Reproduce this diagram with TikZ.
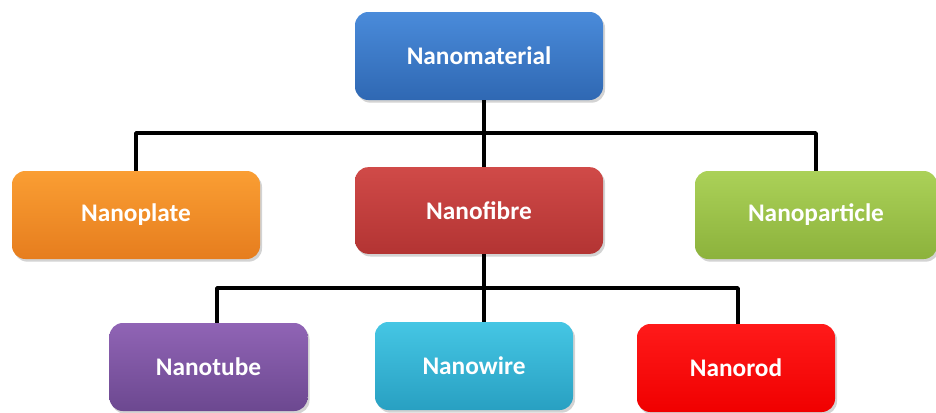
\documentclass[tikz,border=0pt]{standalone}
\usepackage{fontspec}
\setmainfont{Carlito}
\usetikzlibrary{shadows}
\definecolor{bluetop}{HTML}{4A8BDA}
\definecolor{bluebot}{HTML}{2F68B3}
\definecolor{redtop}{HTML}{D04A48}
\definecolor{redbot}{HTML}{B33433}
\definecolor{orgtop}{HTML}{FA9E33}
\definecolor{orgbot}{HTML}{E67D1E}
\definecolor{grntop}{HTML}{ABD158}
\definecolor{grnbot}{HTML}{8CB23C}
\definecolor{purtop}{HTML}{9064B5}
\definecolor{purbot}{HTML}{6C4890}
\definecolor{cyntop}{HTML}{45C6E4}
\definecolor{cynbot}{HTML}{28A0C2}
\definecolor{rodtop}{HTML}{FF1A1A}
\definecolor{rodbot}{HTML}{F00000}
\tikzset{
  box/.style={rounded corners=10pt, minimum height=66pt, inner sep=0pt,
    text=white, font=\fontsize{19}{22}\selectfont\bfseries,
    drop shadow={opacity=0.35, shadow xshift=1.5pt, shadow yshift=-2pt}},
  wide/.style={minimum width=186pt},
  narrow/.style={minimum width=148.5pt},
  conn/.style={line width=2.8pt, black, line join=round}
}
\begin{document}
\begin{tikzpicture}[x=0.75pt,y=-0.75pt]
\useasboundingbox (0,0) rectangle (936,412);
% connectors (behind boxes)
\coordinate (j1) at (484,133);
\coordinate (j2) at (484,288);
\coordinate (t2) at (217,288);
\coordinate (r2) at (738,288);
% nodes
\node[box,wide,top color=bluetop,bottom color=bluebot] (nm) at (479,56) {Nanomaterial};
\node[box,wide,top color=orgtop,bottom color=orgbot] (np) at (136,215) {Nanoplate};
\node[box,wide,top color=redtop,bottom color=redbot,minimum height=65pt] (nf) at (479,210.5) {Nanofibre};
\node[box,minimum width=181.5pt,top color=grntop,bottom color=grnbot] (npa) at (816,215) {Nanoparticle};
\node[box,narrow,top color=purtop,bottom color=purbot] (nt) at (208.5,367) {Nanotube};
\node[box,narrow,top color=cyntop,bottom color=cynbot] (nw) at (474,366) {Nanowire};
\node[box,narrow,top color=rodtop,bottom color=rodbot] (nr) at (736,368) {Nanorod};
\begin{scope}[on background layer/.try]
\end{scope}
\draw[conn] (j1 |- nm.south) -- (j1 |- nf.north);
\draw[conn] (np.north) |- (j1) -| (npa.north);
\draw[conn] (j2 |- nf.south) -- (j2 |- nw.north);
\draw[conn] (t2 |- nt.north) -- (t2) -- (r2) -- (r2 |- nr.north);
\end{tikzpicture}
\end{document}
